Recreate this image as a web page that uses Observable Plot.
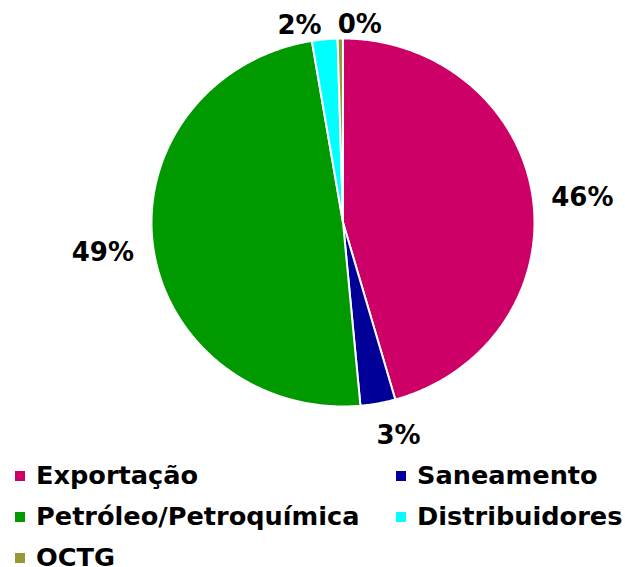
<!DOCTYPE html>
<html><head><meta charset="utf-8">
<script src="https://cdn.jsdelivr.net/npm/d3@7"></script>
<script src="https://cdn.jsdelivr.net/npm/@observablehq/plot@0.6"></script>
<style>
body{margin:0;background:#fff;font-family:"DejaVu Sans",Verdana,sans-serif;}
#chart{position:relative;width:625px;height:567px;overflow:hidden;background:#fff}
#chart svg{display:block}
.legend{display:grid;grid-template-columns:381px auto;padding-left:15px;}
.item{display:flex;align-items:center;height:41px;font-weight:bold;font-size:24.5px;white-space:nowrap;color:#000}
.item .tx{display:inline-block;transform:scaleX(1.045);transform-origin:left center}
.sw{width:10px;height:10px;margin-right:11px;flex:none}
</style></head><body><div id="chart"></div>
<script>
const categories = ["Exportação","Saneamento","Petróleo/Petroquímica","Distribuidores","OCTG"];
const values = [45.6, 2.95, 48.85, 2.15, 0.45];
const labels = ["46%","3%","49%","2%","0%"];
const colors = ["#CC0066","#000099","#009900","#00FFFF","#999933"];

// layout config (pixels)
const pie = {left:151, right:534, top:38, bottom:406};
const rx = (pie.right - pie.left) / 2, ry = (pie.bottom - pie.top) / 2;
const labelGap = 16, labelFont = 26;
const labelNudge = [[3,3],[13.5,6],[-3.5,3],[-21.5,11],[20,11]];

const total = d3.sum(values);
const slicePts = [];
const labelData = [];
let acc = 0;
values.forEach((v, i) => {
  const a0 = acc / total * 2 * Math.PI;
  acc += v;
  const a1 = acc / total * 2 * Math.PI;
  const cat = categories[i];
  slicePts.push({cat, x: 0, y: 0});
  const n = Math.max(2, Math.ceil((a1 - a0) / (Math.PI / 360)));
  for (let k = 0; k <= n; k++) {
    const t = a0 + (a1 - a0) * k / n;
    slicePts.push({cat, x: Math.sin(t), y: Math.cos(t)});
  }
  slicePts.push({cat, x: 0, y: 0});
  const m = (a0 + a1) / 2;
  const s = Math.sin(m), c = Math.cos(m);
  const digits = labels[i].length - 1;
  const hw = (digits * 0.696 + 1.002) * labelFont / 2, hh = 10;
  const px = s * (rx + labelGap + hw) + labelNudge[i][0];
  const py = c * (ry + labelGap + hh) - labelNudge[i][1];
  labelData.push({text: labels[i], x: px / rx, y: py / ry});
});

const plot = Plot.plot({
  width: 625,
  height: 455,
  margin: 0,
  x: {domain: [-1, 1], range: [pie.left, pie.right], axis: null},
  y: {domain: [-1, 1], range: [pie.bottom, pie.top], axis: null},
  color: {domain: categories, range: colors},
  marks: [
    Plot.line(slicePts, {x: "x", y: "y", z: "cat", fill: "cat", stroke: "white", strokeWidth: 2, strokeLinejoin: "round", curve: "linear"}),
    Plot.text(labelData, {x: "x", y: "y", text: "text", fontSize: labelFont, fontWeight: "bold", fontFamily: "DejaVu Sans, Verdana, sans-serif", fill: "black", dy: 1})
  ]
});

const root = document.getElementById("chart");
root.appendChild(plot);
const leg = document.createElement("div");
leg.className = "legend";
categories.forEach((c, i) => {
  const it = document.createElement("div");
  it.className = "item";
  const sw = document.createElement("span");
  sw.className = "sw";
  sw.style.background = colors[i];
  it.appendChild(sw);
  const tx = document.createElement("span");
  tx.className = "tx";
  tx.textContent = c;
  it.appendChild(tx);
  leg.appendChild(it);
});
root.appendChild(leg);
</script></body></html>
